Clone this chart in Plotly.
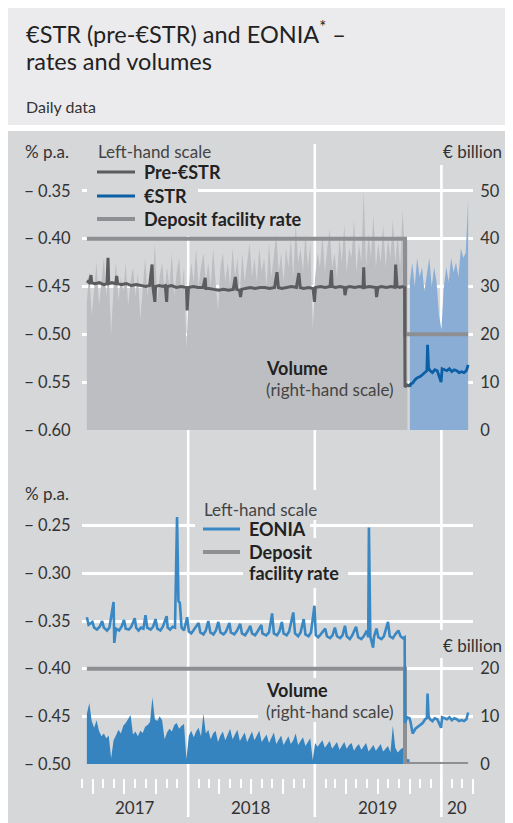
import plotly.graph_objects as go
import pandas as pd

W, H = 505, 815          # figure size (page has an 8px body margin)
OX, OY = 8, 8

# ------------------------------------------------------------------ data
# weekly readings of the volume areas (EUR billion)
vol_dates = pd.date_range("2017-03-15", periods=133, freq="7D")
pre_estr_volume = [
    27, 33, 24, 30, 35, 26, 31, 36, 28, 33, 20, 30, 35, 27, 32, 29, 35, 26, 31, 34,
    28, 33, 23, 30, 36, 28, 33, 30, 39, 27, 32, 35, 29, 34, 30, 37, 28, 33, 36, 29,
    34, 17, 30, 35, 31, 38, 30, 34, 37, 31, 35, 30, 38, 31, 25, 34, 37, 31, 35, 30,
    38, 32, 36, 29, 37, 31, 35, 39, 32, 36, 31, 38, 33, 36, 30, 39, 32, 36, 41, 33,
    37, 31, 38, 34, 40, 32, 43, 35, 38, 33, 41, 34, 39, 21, 32, 37, 34, 41, 33, 38,
    42, 34, 37, 32, 40, 35, 43, 33, 38, 36, 44, 33, 39, 35, 50, 34, 41, 36, 45, 34,
    39, 35, 43, 34, 40, 36, 44, 35, 41, 34, 46, 36, 40,
]
eonia_volume = [
    10.5, 12.8, 9.0, 7.6, 9.2, 7.0, 5.8, 6.4, 5.4, 6.0, 1.2, 5.0, 6.0, 7.2, 6.4, 8.0,
    8.6, 9.4, 10.3, 6.2, 6.8, 5.8, 7.0, 6.5, 7.8, 8.2, 8.8, 14.0, 9.4, 9.0, 10.0, 9.2,
    5.2, 6.6, 7.4, 6.8, 8.2, 8.6, 7.4, 8.0, 8.4, 1.0, 6.0, 7.0, 5.6, 6.8, 7.6, 5.8,
    10.6, 6.4, 7.2, 5.2, 6.4, 7.0, 4.6, 6.0, 6.8, 5.0, 6.2, 7.4, 5.2, 6.4, 7.2, 4.8,
    5.8, 6.6, 4.6, 5.6, 6.8, 5.0, 6.2, 7.0, 4.6, 5.4, 6.2, 4.4, 5.6, 6.6, 4.2, 5.2,
    6.0, 4.0, 5.0, 5.8, 4.2, 5.0, 6.4, 4.0, 4.8, 5.6, 3.8, 4.6, 5.4, 0.8, 4.4, 3.6,
    4.4, 5.0, 3.4, 4.2, 4.8, 3.2, 4.0, 4.6, 3.0, 3.8, 4.6, 3.2, 4.0, 4.4, 2.8, 3.6,
    4.2, 3.0, 3.8, 4.4, 2.6, 3.4, 4.0, 2.8, 3.4, 4.2, 2.6, 3.2, 3.8, 2.4, 8.0, 3.4,
    2.4, 3.0, 3.4, 2.2, 1.0,
]
estr_vol_dates = pd.date_range("2019-10-02", periods=25, freq="7D")
estr_volume = [31, 35, 30, 36, 32, 34, 29, 33, 36, 30, 34, 31, 24, 21, 30, 34, 31,
               36, 33, 35, 32, 38, 36, 37, 48]

# rates (% p.a.)
pre_estr = [
    ("2017-03-15", -0.444), ("2017-03-22", -0.446), ("2017-03-27", -0.438), ("2017-03-29", -0.446),
    ("2017-04-07", -0.447), ("2017-04-20", -0.446), ("2017-05-03", -0.448), ("2017-05-12", -0.447),
    ("2017-05-15", -0.420), ("2017-05-17", -0.447), ("2017-05-26", -0.446), ("2017-06-07", -0.447),
    ("2017-06-09", -0.439), ("2017-06-12", -0.447), ("2017-06-23", -0.448), ("2017-07-07", -0.447),
    ("2017-07-21", -0.449), ("2017-08-04", -0.448), ("2017-08-18", -0.449), ("2017-09-01", -0.450),
    ("2017-09-12", -0.449), ("2017-09-19", -0.427), ("2017-09-21", -0.449), ("2017-09-27", -0.466),
    ("2017-09-29", -0.450), ("2017-10-10", -0.449), ("2017-10-20", -0.450), ("2017-10-27", -0.449),
    ("2017-10-31", -0.466), ("2017-11-02", -0.450), ("2017-11-14", -0.449), ("2017-11-28", -0.451),
    ("2017-12-12", -0.450), ("2017-12-27", -0.451), ("2017-12-29", -0.475), ("2018-01-02", -0.451),
    ("2018-01-16", -0.450), ("2018-01-30", -0.451), ("2018-02-13", -0.451), ("2018-02-19", -0.441),
    ("2018-02-21", -0.452), ("2018-03-02", -0.452), ("2018-03-16", -0.453), ("2018-03-30", -0.454),
    ("2018-04-13", -0.453), ("2018-04-27", -0.454), ("2018-05-11", -0.453), ("2018-05-17", -0.440),
    ("2018-05-21", -0.453), ("2018-05-29", -0.454), ("2018-06-01", -0.461), ("2018-06-04", -0.453),
    ("2018-06-15", -0.452), ("2018-06-29", -0.451), ("2018-07-13", -0.452), ("2018-07-27", -0.451),
    ("2018-08-10", -0.451), ("2018-08-24", -0.452), ("2018-09-07", -0.451), ("2018-09-14", -0.435),
    ("2018-09-18", -0.451), ("2018-09-28", -0.452), ("2018-10-12", -0.451), ("2018-10-26", -0.450),
    ("2018-11-09", -0.451), ("2018-11-16", -0.436), ("2018-11-20", -0.451), ("2018-11-30", -0.452),
    ("2018-12-14", -0.451), ("2018-12-27", -0.452), ("2018-12-31", -0.466), ("2019-01-03", -0.451),
    ("2019-01-17", -0.450), ("2019-01-31", -0.451), ("2019-02-14", -0.450), ("2019-02-18", -0.433),
    ("2019-02-20", -0.450), ("2019-03-01", -0.451), ("2019-03-15", -0.450), ("2019-03-27", -0.451),
    ("2019-03-29", -0.459), ("2019-04-02", -0.451), ("2019-04-12", -0.450), ("2019-04-26", -0.451),
    ("2019-05-10", -0.450), ("2019-05-20", -0.451), ("2019-05-22", -0.430), ("2019-05-24", -0.451),
    ("2019-06-07", -0.450), ("2019-06-21", -0.451), ("2019-06-26", -0.451), ("2019-06-28", -0.461),
    ("2019-07-02", -0.451), ("2019-07-12", -0.450), ("2019-07-26", -0.451), ("2019-08-09", -0.450),
    ("2019-08-20", -0.451), ("2019-08-22", -0.427), ("2019-08-26", -0.450), ("2019-09-03", -0.451),
    ("2019-09-10", -0.450), ("2019-09-17", -0.451), ("2019-09-18", -0.555), ("2019-09-24", -0.553),
    ("2019-10-01", -0.554),
]
pre_estr_dates = [d for d, _ in pre_estr]
pre_estr_rate = [v for _, v in pre_estr]

estr = [
    ("2019-10-02", -0.555), ("2019-10-04", -0.552), ("2019-10-10", -0.551), ("2019-10-18", -0.547),
    ("2019-10-25", -0.545), ("2019-11-01", -0.544), ("2019-11-08", -0.542), ("2019-11-15", -0.539),
    ("2019-11-20", -0.538), ("2019-11-22", -0.511), ("2019-11-25", -0.535), ("2019-11-29", -0.538),
    ("2019-12-06", -0.540), ("2019-12-13", -0.537), ("2019-12-20", -0.538), ("2019-12-31", -0.550),
    ("2020-01-03", -0.536), ("2020-01-10", -0.537), ("2020-01-17", -0.538), ("2020-01-24", -0.536),
    ("2020-01-31", -0.539), ("2020-02-07", -0.537), ("2020-02-14", -0.538), ("2020-02-21", -0.540),
    ("2020-02-28", -0.539), ("2020-03-06", -0.540), ("2020-03-13", -0.538), ("2020-03-18", -0.532),
]
estr_dates = [d for d, _ in estr]
estr_rate = [v for _, v in estr]

eonia = [
    ("2017-03-15", -0.346), ("2017-03-20", -0.354), ("2017-03-31", -0.351), ("2017-04-05", -0.357),
    ("2017-04-13", -0.359), ("2017-04-21", -0.356), ("2017-04-28", -0.350), ("2017-05-03", -0.357),
    ("2017-05-12", -0.360), ("2017-05-19", -0.357), ("2017-05-31", -0.330), ("2017-06-02", -0.373),
    ("2017-06-07", -0.358), ("2017-06-16", -0.360), ("2017-06-23", -0.356), ("2017-06-30", -0.349),
    ("2017-07-05", -0.358), ("2017-07-14", -0.359), ("2017-07-21", -0.356), ("2017-07-31", -0.347),
    ("2017-08-04", -0.357), ("2017-08-11", -0.360), ("2017-08-18", -0.357), ("2017-08-25", -0.358),
    ("2017-08-31", -0.344), ("2017-09-05", -0.357), ("2017-09-15", -0.359), ("2017-09-22", -0.356),
    ("2017-09-29", -0.348), ("2017-10-04", -0.358), ("2017-10-13", -0.360), ("2017-10-20", -0.356),
    ("2017-10-31", -0.345), ("2017-11-03", -0.357), ("2017-11-10", -0.359), ("2017-11-17", -0.356),
    ("2017-11-24", -0.357), ("2017-11-30", -0.241), ("2017-12-04", -0.329), ("2017-12-08", -0.331),
    ("2017-12-13", -0.357), ("2017-12-20", -0.360), ("2017-12-29", -0.346), ("2018-01-03", -0.361),
    ("2018-01-10", -0.363), ("2018-01-19", -0.358), ("2018-01-31", -0.352), ("2018-02-05", -0.362),
    ("2018-02-14", -0.364), ("2018-02-21", -0.360), ("2018-02-28", -0.350), ("2018-03-06", -0.362),
    ("2018-03-15", -0.364), ("2018-03-22", -0.360), ("2018-03-29", -0.351), ("2018-04-04", -0.362),
    ("2018-04-13", -0.364), ("2018-04-20", -0.361), ("2018-04-30", -0.352), ("2018-05-04", -0.362),
    ("2018-05-14", -0.364), ("2018-05-22", -0.360), ("2018-05-31", -0.353), ("2018-06-05", -0.363),
    ("2018-06-14", -0.365), ("2018-06-21", -0.361), ("2018-06-29", -0.355), ("2018-07-04", -0.363),
    ("2018-07-13", -0.365), ("2018-07-20", -0.361), ("2018-07-31", -0.354), ("2018-08-03", -0.363),
    ("2018-08-14", -0.365), ("2018-08-22", -0.362), ("2018-08-31", -0.342), ("2018-09-05", -0.363),
    ("2018-09-14", -0.365), ("2018-09-21", -0.361), ("2018-09-28", -0.351), ("2018-10-03", -0.363),
    ("2018-10-12", -0.365), ("2018-10-19", -0.361), ("2018-10-31", -0.341), ("2018-11-05", -0.363),
    ("2018-11-14", -0.366), ("2018-11-21", -0.362), ("2018-11-30", -0.348), ("2018-12-05", -0.364),
    ("2018-12-14", -0.366), ("2018-12-21", -0.362), ("2018-12-31", -0.334), ("2019-01-04", -0.365),
    ("2019-01-11", -0.367), ("2019-01-18", -0.364), ("2019-01-31", -0.358), ("2019-02-05", -0.366),
    ("2019-02-14", -0.368), ("2019-02-21", -0.365), ("2019-02-28", -0.357), ("2019-03-06", -0.366),
    ("2019-03-15", -0.368), ("2019-03-22", -0.365), ("2019-03-29", -0.355), ("2019-04-03", -0.366),
    ("2019-04-12", -0.369), ("2019-04-19", -0.365), ("2019-04-30", -0.356), ("2019-05-06", -0.367),
    ("2019-05-15", -0.369), ("2019-05-22", -0.366), ("2019-05-31", -0.360), ("2019-06-04", -0.367),
    ("2019-06-06", -0.252), ("2019-06-10", -0.366), ("2019-06-18", -0.378), ("2019-06-21", -0.366),
    ("2019-06-28", -0.358), ("2019-07-03", -0.367), ("2019-07-12", -0.369), ("2019-07-19", -0.366),
    ("2019-07-31", -0.351), ("2019-08-05", -0.366), ("2019-08-14", -0.368), ("2019-08-21", -0.364),
    ("2019-08-30", -0.360), ("2019-09-05", -0.366), ("2019-09-12", -0.368), ("2019-09-17", -0.367),
    ("2019-09-18", -0.457), ("2019-09-24", -0.451), ("2019-10-01", -0.452), ("2019-10-04", -0.456),
    ("2019-10-10", -0.468), ("2019-10-18", -0.463), ("2019-10-25", -0.461), ("2019-11-01", -0.459),
    ("2019-11-08", -0.457), ("2019-11-15", -0.453), ("2019-11-20", -0.452), ("2019-11-22", -0.426),
    ("2019-11-25", -0.450), ("2019-11-29", -0.453), ("2019-12-06", -0.455), ("2019-12-13", -0.452),
    ("2019-12-20", -0.453), ("2019-12-31", -0.462), ("2020-01-03", -0.451), ("2020-01-10", -0.452),
    ("2020-01-17", -0.453), ("2020-01-24", -0.451), ("2020-01-31", -0.454), ("2020-02-07", -0.452),
    ("2020-02-14", -0.453), ("2020-02-21", -0.455), ("2020-02-28", -0.454), ("2020-03-06", -0.455),
    ("2020-03-13", -0.453), ("2020-03-18", -0.446),
]
eonia_dates = [d for d, _ in eonia]
eonia_rate = [v for _, v in eonia]

dfr_dates = ["2017-03-15", "2019-09-18", "2020-03-18"]
dfr_rate = [-0.40, -0.50, -0.50]

top_rate_ticks = [-0.60, -0.55, -0.50, -0.45, -0.40, -0.35]
top_vol_ticks = [0, 10, 20, 30, 40, 50]
bot_rate_ticks = [-0.50, -0.45, -0.40, -0.35, -0.30, -0.25]
bot_vol_ticks = [0, 10, 20]
year_starts = ["2018-01-01", "2019-01-01", "2020-01-01"]
year_labels = ["2017", "2018", "2019", "20"]
year_label_pos = ["2017-08-01", "2018-07-02", "2019-07-02", "2020-02-15"]
x_range = ["2017-03-01", "2020-04-01"]

# ------------------------------------------------------------------ style
FONT = "Lato, 'Open Sans', sans-serif"
TXT = "#333333"
DARK = "#222222"
MID = "#444444"
PANEL = "#d6d7d9"
HEADER = "#ebebed"
GRAY_VOL = "#bdbec1"
ESTR_VOL = "#8aadd6"
EONIA_VOL = "#3584bf"
PRE_LINE = "#5c5c5e"
ESTR_LINE = "#0b5fa5"
DFR = "#8e8f92"
EONIA_LINE = "#3a88c3"


def fx(p):
    return (p - OX) / W


def fy(p):
    return 1 - (p - OY) / H


def fmt(v):
    return "\u2212 " + f"{abs(v):.2f}"


X0, X1 = 82, 473
TOP_Y0, TOP_Y1 = 430, 143
BOT_Y0, BOT_Y1 = 764, 478
R0 = pd.Timestamp(x_range[0])
R1 = pd.Timestamp(x_range[1])


def xdate(p):
    return (R0 + (R1 - R0) * ((p - X0) / (X1 - X0))).isoformat()


def top_v(p):
    return (TOP_Y0 - p) / (TOP_Y0 - TOP_Y1) * 60


def bot_v(p):
    return (BOT_Y0 - p) / (BOT_Y0 - BOT_Y1) * 60


fig = go.Figure()

# top chart: volumes on base axis (y), rates on overlay (y2)
fig.add_trace(go.Scatter(x=vol_dates, y=pre_estr_volume, mode="lines", fill="tozeroy",
                         line=dict(width=0, color=GRAY_VOL), fillcolor=GRAY_VOL,
                         xaxis="x", yaxis="y", hoverinfo="skip"))
fig.add_trace(go.Scatter(x=estr_vol_dates, y=estr_volume, mode="lines", fill="tozeroy",
                         line=dict(width=0, color=ESTR_VOL), fillcolor=ESTR_VOL,
                         xaxis="x", yaxis="y", hoverinfo="skip"))
fig.add_trace(go.Scatter(x=dfr_dates, y=dfr_rate, mode="lines", line_shape="hv",
                         line=dict(width=4, color=DFR), xaxis="x", yaxis="y2"))
fig.add_trace(go.Scatter(x=pre_estr_dates, y=pre_estr_rate, mode="lines",
                         line=dict(width=3, color=PRE_LINE), xaxis="x", yaxis="y2"))
fig.add_trace(go.Scatter(x=estr_dates, y=estr_rate, mode="lines",
                         line=dict(width=2.8, color=ESTR_LINE), xaxis="x", yaxis="y2"))

# bottom chart: volume on base (y3), rates on overlay (y4)
fig.add_trace(go.Scatter(x=list(vol_dates) + [pd.Timestamp("2019-10-01")],
                         y=eonia_volume + [1.0], mode="lines", fill="tozeroy",
                         line=dict(width=0, color=EONIA_VOL), fillcolor=EONIA_VOL,
                         xaxis="x2", yaxis="y3", hoverinfo="skip"))
fig.add_trace(go.Scatter(x=dfr_dates, y=dfr_rate, mode="lines", line_shape="hv",
                         line=dict(width=4, color=DFR), xaxis="x2", yaxis="y4"))
fig.add_trace(go.Scatter(x=eonia_dates, y=eonia_rate, mode="lines",
                         line=dict(width=2.6, color=EONIA_LINE), xaxis="x2", yaxis="y4"))

tickfont = dict(family=FONT, size=16.5, color=TXT)
xdom = [fx(X0), fx(X1)]
top_dom = [fy(TOP_Y0), fy(TOP_Y1)]
bot_dom = [fy(BOT_Y0), fy(BOT_Y1)]

fig.update_layout(
    width=W, height=H, margin=dict(l=0, r=0, t=0, b=0),
    paper_bgcolor="white", plot_bgcolor="rgba(0,0,0,0)",
    showlegend=False, font=dict(family=FONT, color=TXT),
    xaxis=dict(domain=xdom, anchor="y", range=x_range, type="date",
               showgrid=False, showticklabels=False, ticks="", zeroline=False,
               showline=False, automargin=False),
    yaxis=dict(domain=top_dom, anchor="x", side="right", range=[0, 60],
               tickvals=top_vol_ticks, ticktext=[str(v) for v in top_vol_ticks],
               showgrid=True, gridcolor="white", gridwidth=2.5, zeroline=False,
               ticks="outside", ticklen=3, tickcolor="rgba(0,0,0,0)",
               tickfont=tickfont, automargin=False),
    yaxis2=dict(overlaying="y", anchor="x", side="left", range=[-0.60, -0.30],
                tickvals=top_rate_ticks, ticktext=[fmt(v) for v in top_rate_ticks],
                showgrid=False, zeroline=False, ticks="outside", ticklen=7,
                tickcolor="rgba(0,0,0,0)", tickfont=tickfont, automargin=False),
    xaxis2=dict(domain=xdom, anchor="free", position=fy(778), range=x_range, type="date",
                showgrid=False, showticklabels=False, zeroline=False, showline=False,
                ticks="outside", ticklen=15, tickwidth=2, tickcolor="white",
                tick0="2017-01-01", dtick="M3",
                minor=dict(ticks="outside", ticklen=9, tickwidth=2, tickcolor="white",
                           dtick="M1", showgrid=False),
                automargin=False),
    yaxis3=dict(domain=bot_dom, anchor="x2", side="right", range=[0, 60],
                tickvals=bot_vol_ticks, ticktext=[str(v) for v in bot_vol_ticks],
                showgrid=True, gridcolor="white", gridwidth=2.5, zeroline=False,
                ticks="outside", ticklen=3, tickcolor="rgba(0,0,0,0)",
                minor=dict(tick0=0, dtick=10, showgrid=True, gridcolor="white",
                           gridwidth=2.5, ticks=""),
                tickfont=tickfont, automargin=False),
    yaxis4=dict(overlaying="y3", anchor="x2", side="left", range=[-0.50, -0.20],
                tickvals=bot_rate_ticks, ticktext=[fmt(v) for v in bot_rate_ticks],
                showgrid=False, zeroline=False, ticks="outside", ticklen=7,
                tickcolor="rgba(0,0,0,0)", tickfont=tickfont, automargin=False),
)

shapes = []
# backgrounds
shapes.append(dict(type="rect", xref="paper", yref="paper", x0=0, x1=1, y0=fy(125), y1=1,
                   fillcolor=HEADER, line=dict(width=0), layer="below"))
shapes.append(dict(type="rect", xref="paper", yref="paper", x0=0, x1=1, y0=0, y1=fy(131),
                   fillcolor=PANEL, line=dict(width=0), layer="below"))
# year boundary lines spanning both panels
for d in year_starts:
    shapes.append(dict(type="line", xref="x", yref="paper", x0=d, x1=d, y0=fy(817), y1=fy(144),
                       line=dict(color="white", width=2.6), layer="below"))


def box_top(x0, x1, y0, y1):
    return dict(type="rect", xref="x", yref="y", x0=xdate(x0), x1=xdate(x1),
                y0=top_v(y1), y1=top_v(y0), fillcolor=PANEL, line=dict(width=0),
                layer="between")


def box_bot(x0, x1, y0, y1):
    return dict(type="rect", xref="x2", yref="y3", x0=xdate(x0), x1=xdate(x1),
                y0=bot_v(y1), y1=bot_v(y0), fillcolor=PANEL, line=dict(width=0),
                layer="between")


# top legend background rows
shapes.append(box_top(87, 220, 142, 162))
shapes.append(box_top(87, 232, 162, 184))
shapes.append(box_top(87, 198, 184, 207))
shapes.append(box_top(87, 307, 207, 236))
shapes.append(box_top(438, 480, 140, 165))
# bottom legend background rows
shapes.append(box_bot(195, 325, 490, 520))
shapes.append(box_bot(195, 310, 520, 538))
shapes.append(box_bot(195, 318, 538, 562))
shapes.append(box_bot(243, 348, 562, 588))
shapes.append(box_bot(438, 480, 630, 658))
shapes.append(box_bot(258, 403, 678, 722))


def sample(x0, x1, y, color, width):
    return dict(type="line", xref="paper", yref="paper", x0=fx(x0), x1=fx(x1), y0=fy(y), y1=fy(y),
                line=dict(color=color, width=width), layer="above")


shapes.append(sample(97, 135, 172, PRE_LINE, 3))
shapes.append(sample(97, 135, 196, ESTR_LINE, 3))
shapes.append(sample(97, 135, 219, DFR, 4))
shapes.append(sample(203, 240, 529, EONIA_LINE, 3))
shapes.append(sample(203, 240, 552, DFR, 4))
fig.update_layout(shapes=shapes)

ann = []


def text(t, x, y, size=17, color=TXT, xanchor="left"):
    ann.append(dict(text=t, x=fx(x), y=fy(y), xref="paper", yref="paper", showarrow=False,
                    xanchor=xanchor, yanchor="middle", font=dict(family=FONT, size=size, color=color)))


text("\u20acSTR (pre-\u20acSTR) and EONIA<sup>*</sup> \u2013", 24, 32, size=23.5, color=DARK)
text("rates and volumes", 24, 61, size=23.5, color=DARK)
text("Daily data", 24, 107, size=16)
text("% p.a.", 23, 152, size=17)
text("Left-hand scale", 96, 152, size=17, color=MID)
text("<b>Pre-\u20acSTR</b>", 142, 172, size=18, color=DARK)
text("<b>\u20acSTR</b>", 142, 196, size=18, color=DARK)
text("<b>Deposit facility rate</b>", 142, 219, size=18, color=DARK)
text("\u20ac billion", 504, 152, size=17, xanchor="right")
text("<b>Volume</b>", 264, 368, size=18, color=DARK)
text("(right-hand scale)", 264, 389, size=17, color=MID)
text("% p.a.", 23, 493, size=17)
text("Left-hand scale", 202, 509, size=17, color=MID)
text("<b>EONIA</b>", 247, 529, size=18, color=DARK)
text("<b>Deposit</b>", 247, 552, size=18, color=DARK)
text("<b>facility rate</b>", 247, 573, size=18, color=DARK)
text("\u20ac billion", 504, 645, size=17, xanchor="right")
text("<b>Volume</b>", 264, 690, size=18, color=DARK)
text("(right-hand scale)", 264, 711, size=17, color=MID)
for lab, pos in zip(year_labels, year_label_pos):
    ann.append(dict(text=lab, x=pos, y=fy(807), xref="x2", yref="paper", showarrow=False,
                    xanchor="center", yanchor="middle", font=dict(family=FONT, size=17, color=TXT)))
fig.update_layout(annotations=ann)

fig.write_html("out.html")
